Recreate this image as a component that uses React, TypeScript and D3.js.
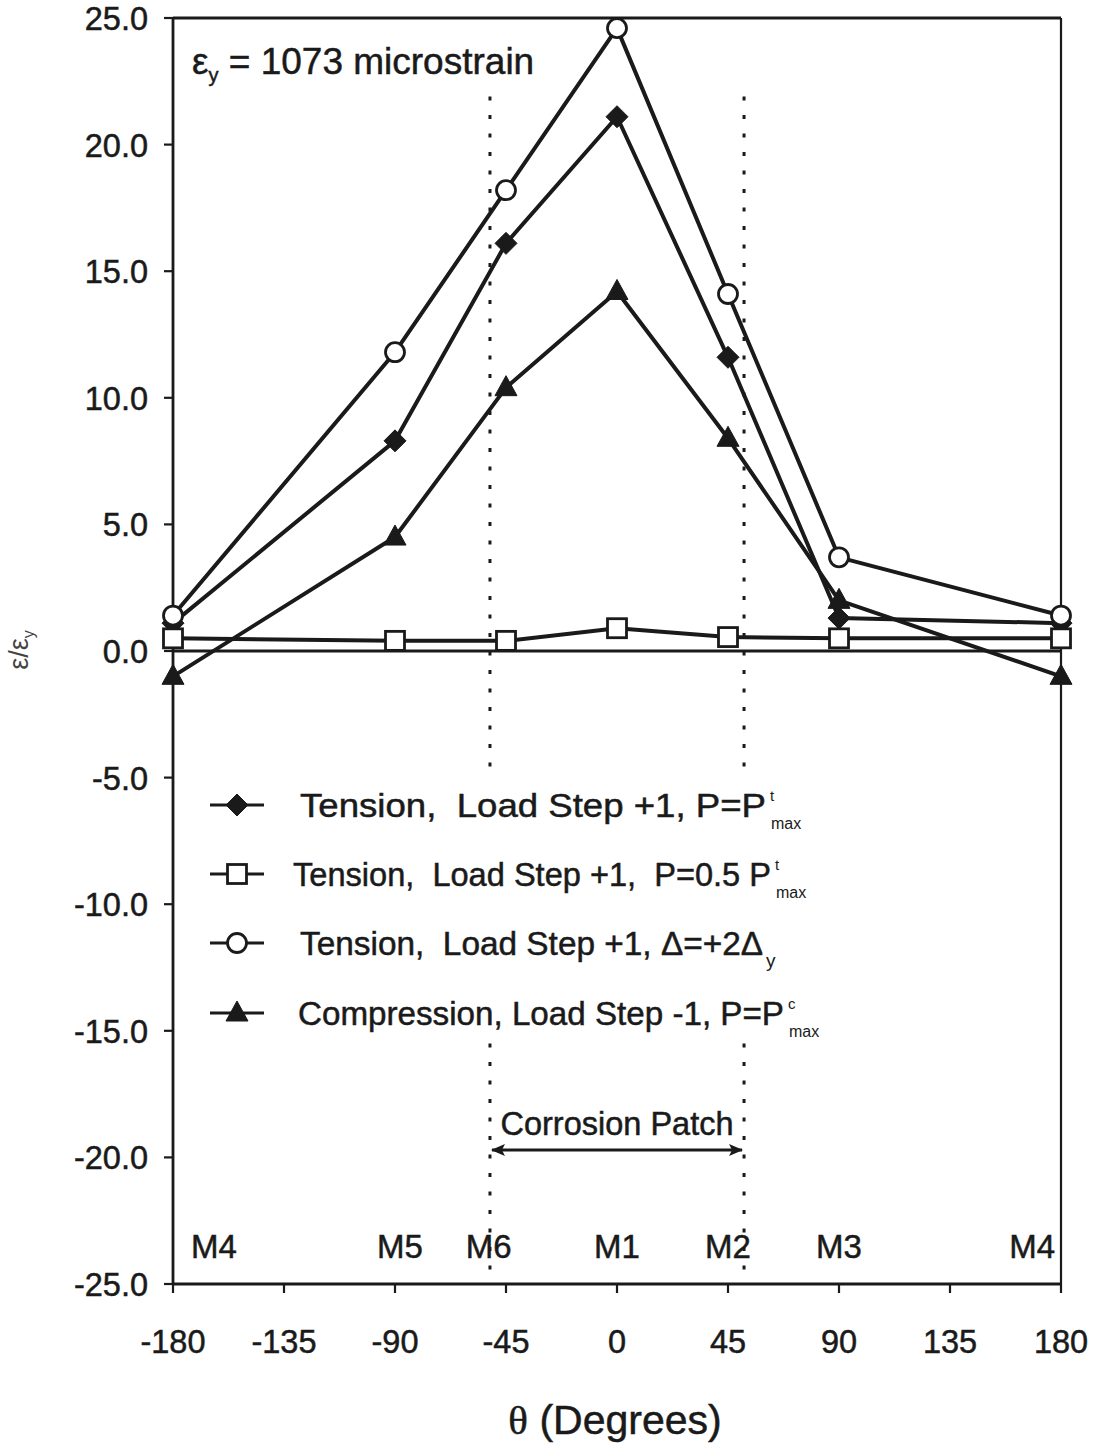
import React from "react";
import * as d3 from "d3";

const angles = [-180, -90, -45, 0, 45, 90, 180];
const tensionPmax = [1.1, 8.3, 16.1, 21.1, 11.6, 1.3, 1.1];
const tensionHalfPmax = [0.5, 0.4, 0.4, 0.9, 0.55, 0.5, 0.5];
const tensionDelta = [1.4, 11.8, 18.2, 24.6, 14.1, 3.7, 1.4];
const compressionPmax = [-1.0, 4.5, 10.4, 14.2, 8.4, 2.0, -1.0];

const xTicks = [-180, -135, -90, -45, 0, 45, 90, 135, 180];
const yTicks = [-25, -20, -15, -10, -5, 0, 5, 10, 15, 20, 25];
const gaugeLabels = ["M4", "M5", "M6", "M1", "M2", "M3", "M4"];
const gaugeAngles = [-180, -88, -52, 0, 45, 90, 180];
const patchBounds = [-51.5, 51.5];

const legendTexts = [
  "Tension,  Load Step +1, P=P",
  "Tension,  Load Step +1,  P=0.5 P",
  "Tension,  Load Step +1, Δ=+2Δ",
  "Compression, Load Step -1, P=P",
];
const legendSups = ["t", "t", "", "c"];
const legendSubs = ["max", "max", "y", "max"];

const FONT = "'Liberation Sans', Arial, Helvetica, sans-serif";
const INK = "#1a1a1a";
const TS = { stroke: INK, strokeWidth: 0.5 };

type Marker = "diamond" | "square" | "circle" | "triangle";

const seriesList: { name: string; values: number[]; marker: Marker }[] = [
  { name: "tp", values: tensionPmax, marker: "diamond" },
  { name: "th", values: tensionHalfPmax, marker: "square" },
  { name: "td", values: tensionDelta, marker: "circle" },
  { name: "cp", values: compressionPmax, marker: "triangle" },
];

function MarkerShape({ type, cx, cy }: { type: Marker; cx: number; cy: number }) {
  if (type === "diamond") {
    const t = `M${cx},${cy - 11} L${cx + 11},${cy} L${cx},${cy + 11} L${cx - 11},${cy} Z`;
    return <path d={t} fill={INK} stroke={INK} strokeWidth={1} />;
  }
  if (type === "square") {
    return <rect x={cx - 9.5} y={cy - 9.5} width={19} height={19} fill="white" stroke={INK} strokeWidth={2.8} />;
  }
  if (type === "circle") {
    return <circle cx={cx} cy={cy} r={9.5} fill="white" stroke={INK} strokeWidth={2.8} />;
  }
  const t = `M${cx},${cy - 12} L${cx + 11},${cy + 8} L${cx - 11},${cy + 8} Z`;
  return <path d={t} fill={INK} stroke={INK} strokeWidth={1} />;
}

export default function App() {
  const W = 1100;
  const H = 1445;
  const x = d3.scaleLinear().domain([-180, 180]).range([173, 1061]);
  const y = d3.scaleLinear().domain([-25, 25]).range([1284, 18]);
  const line = d3
    .line<[number, number]>()
    .x((d) => x(d[0]))
    .y((d) => y(d[1]));

  const legendMarkers: Marker[] = ["diamond", "square", "circle", "triangle"];
  const legendY = [805, 874, 943, 1013];
  const legendX = [300, 293, 300, 298];
  const legendLen = [466, 478, 463, 486];

  return (
    <svg
      width={W}
      height={H}
      style={{ position: "absolute", left: 0, top: 0, background: "white" }}
      fontFamily={FONT}
    >
      <rect x={0} y={0} width={W} height={H} fill="white" />

      {/* dotted corrosion patch lines */}
      {patchBounds.map((b, i) => (
        <g key={i}>
          <line x1={x(b)} x2={x(b)} y1={y(21.9)} y2={y(-4.8)} stroke={INK} strokeWidth={3} strokeDasharray="4 14.5" />
          <line x1={x(b)} x2={x(b)} y1={y(-15.5)} y2={y(-24.7)} stroke={INK} strokeWidth={3} strokeDasharray="4 14.5" />
        </g>
      ))}

      {/* zero line */}
      <line x1={x(-180)} x2={x(180)} y1={y(0)} y2={y(0)} stroke={INK} strokeWidth={2.8} />

      {/* frame */}
      <line x1={x(-180)} x2={x(180)} y1={y(25)} y2={y(25)} stroke={INK} strokeWidth={2.8} />
      <line x1={x(180)} x2={x(180)} y1={y(25)} y2={y(-25)} stroke={INK} strokeWidth={2.2} />
      <line x1={x(-180)} x2={x(-180)} y1={y(25)} y2={y(-25)} stroke={INK} strokeWidth={2.8} />
      <line x1={x(-180)} x2={x(180)} y1={y(-25)} y2={y(-25)} stroke={INK} strokeWidth={2.8} />

      {/* y ticks */}
      {yTicks.map((t) => (
        <g key={t}>
          <line x1={x(-180) - 9} x2={x(-180)} y1={y(t)} y2={y(t)} stroke={INK} strokeWidth={2.2} />
          <text x={148} y={y(t) + 12} textAnchor="end" fontSize={32.5} fill={INK} {...TS}>
            {t.toFixed(1)}
          </text>
        </g>
      ))}

      {/* x ticks */}
      {xTicks.map((t) => (
        <g key={t}>
          <line x1={x(t)} x2={x(t)} y1={y(-25)} y2={y(-25) + 9} stroke={INK} strokeWidth={2.2} />
          <text x={x(t)} y={1353} textAnchor="middle" fontSize={32.5} fill={INK} {...TS}>
            {t < 0 ? "-" + Math.abs(t) : String(t)}
          </text>
        </g>
      ))}

      {/* series lines */}
      {seriesList.map((s) => (
        <path
          key={s.name}
          d={line(angles.map((a, i) => [a, s.values[i]] as [number, number])) || ""}
          fill="none"
          stroke={INK}
          strokeWidth={4}
          strokeLinejoin="round"
        />
      ))}
      {seriesList.map((s) =>
        angles.map((a, i) => (
          <MarkerShape key={s.name + i} type={s.marker} cx={x(a)} cy={y(s.values[i])} />
        ))
      )}

      {/* annotation */}
      <text x={192} y={74} fontSize={37} fill={INK} {...TS}>
        ε<tspan fontSize={20} dy={8}>y</tspan>
        <tspan dy={-8}> = 1073 microstrain</tspan>
      </text>

      {/* legend */}
      {legendTexts.map((txt, i) => {
        const yy = legendY[i];
        const end = legendX[i] + legendLen[i];
        return (
          <g key={i}>
            <line x1={210} x2={264} y1={yy} y2={yy} stroke={INK} strokeWidth={3.2} />
            <MarkerShape type={legendMarkers[i]} cx={237} cy={yy} />
            <text
              x={legendX[i]}
              y={yy + 12}
              fontSize={33}
              fill={INK}
              {...TS}
              textLength={legendLen[i]}
              lengthAdjust="spacingAndGlyphs"
              style={{ whiteSpace: "pre" }}
            >
              {txt}
            </text>
            {legendSups[i] && (
              <text x={end + 4} y={yy - 4} fontSize={15} fill={INK}>
                {legendSups[i]}
              </text>
            )}
            <text x={end + (legendSubs[i] === "y" ? 3 : 5)} y={yy + 24} fontSize={legendSubs[i] === "y" ? 19 : 16} fill={INK}>
              {legendSubs[i]}
            </text>
          </g>
        );
      })}

      {/* corrosion patch */}
      <defs>
        <marker id="ah" viewBox="0 0 14 12" refX={13} refY={6} markerWidth={14} markerHeight={12} markerUnits="userSpaceOnUse" orient="auto-start-reverse">
          <path d="M0,0 L14,6 L0,12 L3,6 Z" fill={INK} />
        </marker>
      </defs>
      <line
        x1={x(patchBounds[0]) + 2}
        x2={x(patchBounds[1]) - 2}
        y1={1150}
        y2={1150}
        stroke={INK}
        strokeWidth={3.2}
        markerStart="url(#ah)"
        markerEnd="url(#ah)"
      />
      <text x={x(0)} y={1135} textAnchor="middle" fontSize={32.5} fill={INK} {...TS}>
        Corrosion Patch
      </text>

      {/* gauge labels */}
      {gaugeLabels.map((g, i) => {
        const first = i === 0;
        const last = i === gaugeLabels.length - 1;
        return (
          <text
            key={i}
            x={first ? x(gaugeAngles[i]) + 18 : last ? x(gaugeAngles[i]) - 6 : x(gaugeAngles[i])}
            y={1258}
            textAnchor={first ? "start" : last ? "end" : "middle"}
            fontSize={33}
            fill={INK}
            {...TS}
          >
            {g}
          </text>
        );
      })}

      {/* axis titles */}
      <text x={615} y={1434} textAnchor="middle" fontSize={41} fill={INK} {...TS}>
        <tspan fontFamily="'Liberation Serif', 'Times New Roman', serif">θ</tspan>
        <tspan> (Degrees)</tspan>
      </text>
      <text transform="translate(28,650) rotate(-90)" textAnchor="middle" fontSize={27} fill="#444">
        ε/ε<tspan fontSize={16} dy={6}>y</tspan>
      </text>
    </svg>
  );
}
